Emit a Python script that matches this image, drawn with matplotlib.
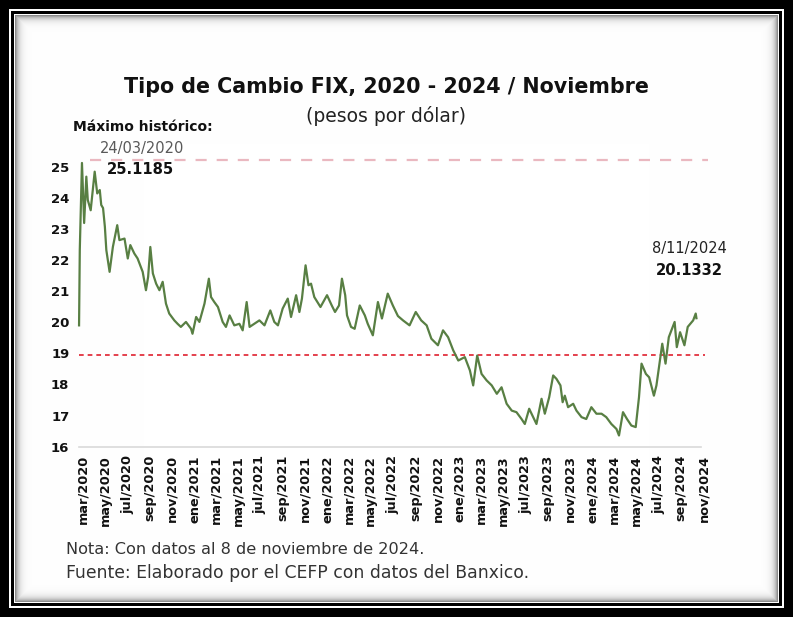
import matplotlib
matplotlib.use("Agg")
import numpy as np
import pandas as pd
import matplotlib.pyplot as plt
import matplotlib.dates as mdates
from matplotlib.transforms import ScaledTranslation

# ---------------- data ----------------
dates = [
    "2020-03-16", "2020-03-18", "2020-03-24", "2020-03-30", "2020-04-05", "2020-04-09",
    "2020-04-17", "2020-04-28", "2020-05-05", "2020-05-12", "2020-05-16", "2020-05-21",
    "2020-05-26", "2020-05-30", "2020-06-08", "2020-06-17", "2020-06-29", "2020-07-05",
    "2020-07-19", "2020-07-28", "2020-08-04", "2020-08-15", "2020-08-24", "2020-09-07",
    "2020-09-16", "2020-09-22", "2020-09-28", "2020-10-05", "2020-10-14", "2020-10-23",
    "2020-11-01", "2020-11-10", "2020-11-19", "2020-12-03", "2020-12-12", "2020-12-21",
    "2021-01-04", "2021-01-18", "2021-01-22", "2021-02-01", "2021-02-10", "2021-02-24",
    "2021-03-08", "2021-03-14", "2021-03-23", "2021-04-02", "2021-04-15", "2021-04-24",
    "2021-05-04", "2021-05-17", "2021-05-31", "2021-06-09", "2021-06-20", "2021-06-28",
    "2021-07-11", "2021-07-25", "2021-08-08", "2021-08-24", "2021-09-04", "2021-09-14",
    "2021-09-27", "2021-10-11", "2021-10-20", "2021-11-03", "2021-11-12", "2021-11-19",
    "2021-11-29", "2021-12-07", "2021-12-14", "2021-12-23", "2022-01-09", "2022-01-27",
    "2022-02-09", "2022-02-18", "2022-03-01", "2022-03-09", "2022-03-18", "2022-03-23",
    "2022-04-03", "2022-04-13", "2022-04-27", "2022-05-11", "2022-05-19", "2022-06-02",
    "2022-06-16", "2022-06-27", "2022-07-13", "2022-07-27", "2022-08-10", "2022-08-24",
    "2022-09-11", "2022-09-28", "2022-10-13", "2022-10-28", "2022-11-10", "2022-11-28",
    "2022-12-12", "2022-12-26", "2023-01-09", "2023-01-23", "2023-02-10", "2023-02-24",
    "2023-03-05", "2023-03-16", "2023-03-28", "2023-04-11", "2023-04-25", "2023-05-09",
    "2023-05-22", "2023-06-05", "2023-06-19", "2023-07-02", "2023-07-16", "2023-07-25",
    "2023-08-06", "2023-08-17", "2023-08-26", "2023-09-09", "2023-09-18", "2023-09-30",
    "2023-10-11", "2023-10-20", "2023-10-31", "2023-11-06", "2023-11-12", "2023-11-21",
    "2023-12-05", "2023-12-14", "2023-12-28", "2024-01-10", "2024-01-24", "2024-02-07",
    "2024-02-21", "2024-03-05", "2024-03-19", "2024-04-02", "2024-04-09", "2024-04-20",
    "2024-05-01", "2024-05-13", "2024-05-25", "2024-06-03", "2024-06-10", "2024-06-22",
    "2024-07-01", "2024-07-14", "2024-07-21", "2024-07-28", "2024-08-06", "2024-08-15",
    "2024-08-24", "2024-09-09", "2024-09-15", "2024-09-24", "2024-10-06", "2024-10-15",
    "2024-10-30", "2024-11-06", "2024-11-08",
]
fix_rate = [
    19.90, 22.32, 25.12, 23.19, 24.68, 23.93,
    23.60, 24.84, 24.14, 24.25, 23.77, 23.67,
    23.07, 22.32, 21.62, 22.42, 23.12, 22.64,
    22.69, 22.05, 22.48, 22.21, 22.05, 21.62,
    21.03, 21.46, 22.42, 21.57, 21.24, 21.03,
    21.30, 20.60, 20.28, 20.06, 19.95, 19.85,
    20.01, 19.79, 19.63, 20.17, 20.01, 20.60,
    21.40, 20.81, 20.65, 20.49, 20.01, 19.85,
    20.22, 19.90, 19.95, 19.74, 20.65, 19.85,
    19.95, 20.06, 19.90, 20.38, 20.01, 19.90,
    20.44, 20.76, 20.17, 20.87, 20.33, 20.76,
    21.83, 21.19, 21.24, 20.81, 20.49, 20.87,
    20.54, 20.33, 20.54, 21.40, 20.87, 20.22,
    19.85, 19.79, 20.54, 20.22, 19.95, 19.58,
    20.65, 20.12, 20.92, 20.54, 20.20, 20.06,
    19.90, 20.33, 20.06, 19.90, 19.47, 19.26,
    19.74, 19.52, 19.10, 18.77, 18.88, 18.45,
    17.97, 18.93, 18.34, 18.13, 17.97, 17.70,
    17.91, 17.38, 17.16, 17.11, 16.89, 16.73,
    17.22, 16.95, 16.73, 17.54, 17.06, 17.59,
    18.29, 18.18, 17.97, 17.43, 17.64, 17.27,
    17.38, 17.16, 16.95, 16.89, 17.27, 17.06,
    17.06, 16.95, 16.73, 16.57, 16.36, 17.11,
    16.89, 16.68, 16.63, 17.59, 18.67, 18.34,
    18.23, 17.64, 17.97, 18.56, 19.31, 18.67,
    19.52, 20.01, 19.20, 19.68, 19.26, 19.85,
    20.06, 20.28, 20.13,
]
historic_max = 25.1185
historic_max_date = "24/03/2020"
last_value = 20.1332
last_date = "8/11/2024"
upper_ref = 25.22       # pink dashed reference line
lower_ref = 18.95       # red dotted reference line
y_ticks = list(range(16, 26))
x_tick_dates = pd.date_range("2020-03-01", "2024-11-01", freq="2MS")
month_abbr = {1: "ene", 3: "mar", 5: "may", 7: "jul", 9: "sep", 11: "nov"}
x_tick_labels = [f"{month_abbr[d.month]}/{d.year}" for d in x_tick_dates]

# ---------------- figure ----------------
W, H = 793, 617
fig = plt.figure(figsize=(W / 100, H / 100), dpi=100)
fig.patch.set_facecolor("white")

# decorative double frame with inner shadow
yy, xx = np.mgrid[0:H, 0:W]
dist = np.minimum(np.minimum(xx, W - 1 - xx), np.minimum(yy, H - 1 - yy)).astype(float)
shade = 1 - 0.45 * np.exp(-(dist - 15) / 3.5)
img = np.repeat(np.clip(shade, 0, 1)[..., None], 3, axis=2)
img[dist < 9] = 0
img[(dist >= 9) & (dist < 11)] = 1
img[(dist >= 11) & (dist < 14)] = 0
img[(dist >= 14) & (dist < 15)] = 1
fig.figimage(img, 0, 0, origin="upper", zorder=-10)

def fx(px):
    return px / W

def fy(py):
    return 1 - py / H

FONT = "DejaVu Sans"

# axes placement (pixels)
x_left, x_right = 73.6, 700.8
y_bottom, y_top = 446.7, 155.8
ax = fig.add_axes([fx(x_left), fy(y_bottom), (x_right - x_left) / W, (y_bottom - y_top) / H])
ax.set_facecolor("none")

dts = pd.to_datetime(dates)
ax.plot(dts, fix_rate, color="#587f43", lw=1.6, solid_joinstyle="round", zorder=3)

ax.set_xlim(pd.Timestamp("2020-03-01"), pd.Timestamp("2024-11-20"))
ax.set_ylim(16, 25.35)

ax.hlines(upper_ref, pd.Timestamp("2020-04-15"), pd.Timestamp("2024-12-10"),
          colors="#eab8c0", lw=1.6, linestyles=(0, (5, 4.5)), clip_on=False, zorder=2)
ax.hlines(lower_ref, pd.Timestamp("2020-03-17"), pd.Timestamp("2024-12-02"),
          colors="#e2323f", lw=1.3, linestyles=(0, (2.6, 2.2)), clip_on=False, zorder=2)

for s in ["top", "right", "left"]:
    ax.spines[s].set_visible(False)
ax.spines["bottom"].set_color("#d9d9d9")
ax.spines["bottom"].set_linewidth(1.2)
ax.spines["bottom"].set_bounds(mdates.date2num(pd.Timestamp("2020-03-17")),
                               mdates.date2num(pd.Timestamp("2024-11-20")))

ax.set_yticks(y_ticks)
ax.set_yticklabels([str(t) for t in y_ticks], fontfamily=FONT, fontweight="bold",
                   fontsize=9.5, color="#111111")
ax.tick_params(axis="y", length=0, pad=3)

ax.set_xticks(x_tick_dates)
ax.set_xticklabels(x_tick_labels, rotation=90, fontfamily=FONT, fontweight="bold",
                   fontsize=9.3, color="#111111", va="top", ha="center")
ax.tick_params(axis="x", length=0, pad=6)
shift = ScaledTranslation(0.095, 0, fig.dpi_scale_trans)
for lab in ax.get_xticklabels():
    lab.set_transform(lab.get_transform() + shift)

# ---------------- texts ----------------
fig.text(fx(386.5), fy(87), "Tipo de Cambio FIX, 2020 - 2024 / Noviembre", ha="center", va="center",
         fontfamily=FONT, fontweight="bold", fontsize=14.9, color="#111111")
fig.text(fx(386), fy(116), "(pesos por dólar)", ha="center", va="center",
         fontfamily=FONT, fontsize=13.5, color="#222222")
fig.text(fx(73), fy(127), "Máximo histórico:", ha="left", va="center",
         fontfamily=FONT, fontweight="bold", fontsize=10, color="#111111")
fig.text(fx(142), fy(148), historic_max_date, ha="center", va="center",
         fontfamily=FONT, fontsize=10.5, color="#595959")
fig.text(fx(140.5), fy(170), f"{historic_max:.4f}", ha="center", va="center",
         fontfamily=FONT, fontweight="bold", fontsize=10.6, color="#111111")
fig.text(fx(689), fy(248), last_date, ha="center", va="center",
         fontfamily=FONT, fontsize=10.5, color="#222222")
fig.text(fx(689), fy(270), f"{last_value:.4f}", ha="center", va="center",
         fontfamily=FONT, fontweight="bold", fontsize=10.6, color="#111111")
fig.text(fx(66), fy(549), "Nota: Con datos al 8 de noviembre de 2024.", ha="left", va="center",
         fontfamily=FONT, fontsize=11.6, color="#333333")
fig.text(fx(66), fy(573), "Fuente: Elaborado por el CEFP con datos del Banxico.", ha="left", va="center",
         fontfamily=FONT, fontsize=12.4, color="#333333")

fig.savefig("out.png", dpi=100)
